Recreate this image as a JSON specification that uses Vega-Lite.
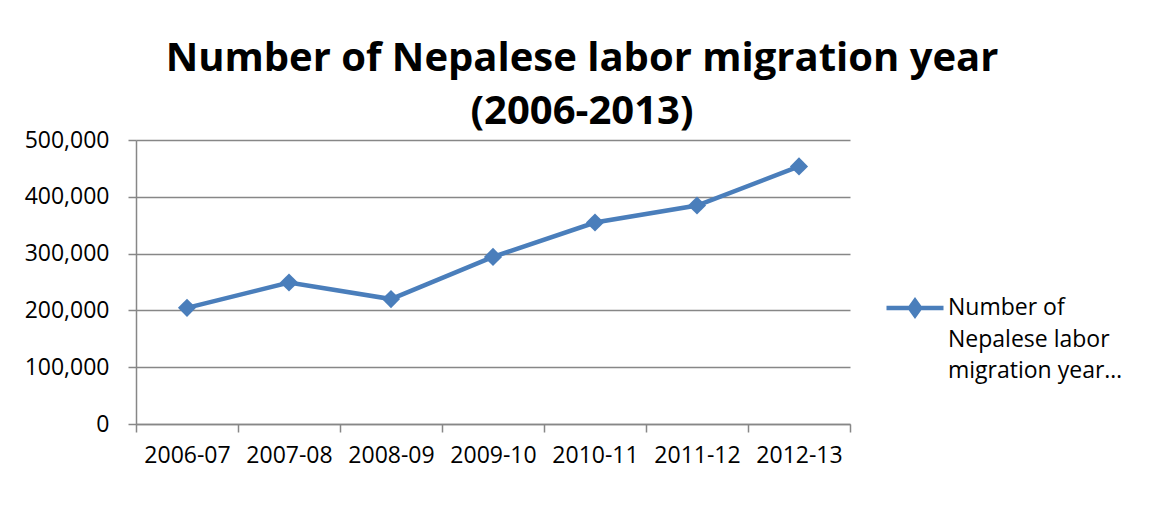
{
  "$schema": "https://vega.github.io/schema/vega-lite/v6.json",
  "width": 714,
  "height": 284,
  "autosize": {"type": "none"},
  "padding": {"left": 136, "top": 140, "right": 304, "bottom": 93},
  "background": "white",
  "title": {
    "text": ["Number of Nepalese labor migration year", "(2006-2013)"],
    "font": "Open Sans",
    "fontSize": 40,
    "fontWeight": "bold",
    "color": "black",
    "anchor": "middle",
    "dx": 89,
    "lineHeight": 53,
    "offset": -3
  },
  "data": {
    "values": [
      {"year": "2006-07", "value": 204533, "series": "Number of Nepalese labor migration year (2006-2013)"},
      {"year": "2007-08", "value": 249051, "series": "Number of Nepalese labor migration year (2006-2013)"},
      {"year": "2008-09", "value": 219965, "series": "Number of Nepalese labor migration year (2006-2013)"},
      {"year": "2009-10", "value": 294094, "series": "Number of Nepalese labor migration year (2006-2013)"},
      {"year": "2010-11", "value": 354716, "series": "Number of Nepalese labor migration year (2006-2013)"},
      {"year": "2011-12", "value": 384665, "series": "Number of Nepalese labor migration year (2006-2013)"},
      {"year": "2012-13", "value": 453543, "series": "Number of Nepalese labor migration year (2006-2013)"}
    ]
  },
  "encoding": {
    "x": {
      "field": "year",
      "type": "nominal",
      "sort": null,
      "scale": {"type": "band", "paddingInner": 0, "paddingOuter": 0},
      "axis": {
        "title": null,
        "labelAngle": 0,
        "tickBand": "extent",
        "labelFont": "Open Sans",
        "labelFontSize": 23,
        "labelColor": "black",
        "labelPadding": 12,
        "tickSize": 8,
        "tickColor": "#878787",
        "domainColor": "#878787",
        "tickWidth": 1.5,
        "domainWidth": 1.5,
        "grid": false
      }
    },
    "y": {
      "field": "value",
      "type": "quantitative",
      "scale": {"domain": [0, 500000], "nice": false},
      "axis": {
        "title": null,
        "values": [0, 100000, 200000, 300000, 400000, 500000],
        "format": ",.0f",
        "labelFont": "Open Sans",
        "labelFontSize": 23,
        "labelColor": "black",
        "labelPadding": 19,
        "tickSize": 8,
        "tickColor": "#878787",
        "domainColor": "#878787",
        "tickWidth": 1.5,
        "domainWidth": 1.5,
        "grid": true,
        "gridColor": "#878787",
        "gridWidth": 1.5
      }
    },
    "color": {
      "field": "series",
      "type": "nominal",
      "scale": {"range": ["#4A7EBB"]},
      "legend": {
        "orient": "none",
        "legendX": 748,
        "legendY": 137,
        "title": null,
        "symbolType": "M-1,0H1M-0.18,0L0,-0.25L0.18,0L0,0.25Z",
        "symbolSize": 3249,
        "symbolStrokeWidth": 4.5,
        "symbolFillColor": "#4A7EBB",
        "symbolStrokeColor": "#4A7EBB",
        "labelExpr": "['Number of', 'Nepalese labor', 'migration year…']",
        "labelFont": "Open Sans",
        "labelFontSize": 23,
        "labelColor": "black",
        "labelLimit": 0,
        "labelOffset": 2
      }
    }
  },
  "layer": [
    {"mark": {"type": "line", "strokeWidth": 4.5}},
    {"mark": {"type": "point", "shape": "diamond", "filled": true, "opacity": 1, "size": 330}}
  ],
  "config": {
    "view": {"stroke": null},
    "style": {"guide-label": {"lineHeight": 31.5}}
  }
}
